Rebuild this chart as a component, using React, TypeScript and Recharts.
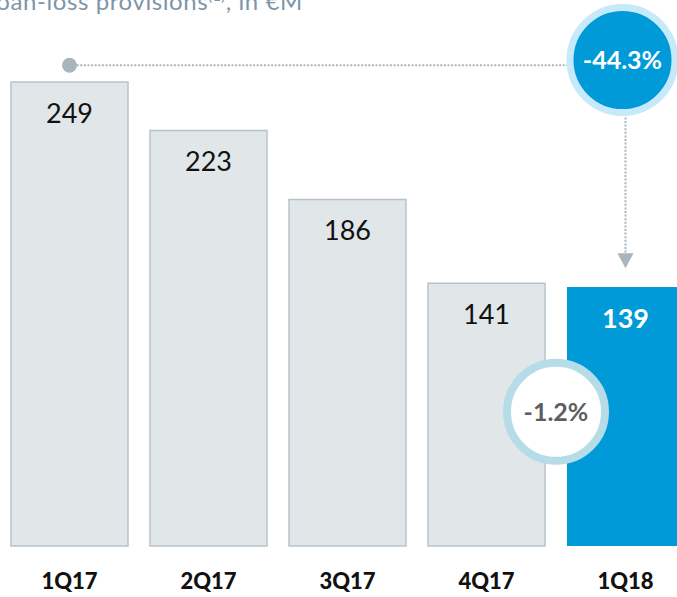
import React from 'react';
import { BarChart, Bar, XAxis, YAxis, Cell, LabelList, ReferenceLine, ReferenceDot } from 'recharts';

const quarters = ['1Q17', '2Q17', '3Q17', '4Q17', '1Q18'];
const provisions = [249, 223, 186, 141, 139];
const highlighted = [false, false, false, false, true];
const titleText = 'Loan-loss provisions';
const titleNote = '(1)';
const titleUnit = ', in €M';
const yMax = 293;
const trendLevel = 258;
const bigBadgeLevel = 260.8;
const bigBadgeText = '-44.3%';
const arrowFrom = 230;
const arrowTo = 149;
const smallBadgeLevel = 72;
const smallBadgeText = '-1.2%';

const data = quarters.map((q, i) => ({ q, v: provisions[i], hl: highlighted[i] }));

const FONT = 'Lato, Calibri, "Open Sans", sans-serif';
const GRAY_FILL = '#e1e6e9';
const GRAY_STROKE = '#b7c3cb';
const BLUE = '#009ad8';
const DOT_GRAY = '#a9b5bd';

const ValueLabel = (props: any) => {
  const { x, y, width, value, index } = props;
  const hl = highlighted[index];
  return (
    <text
      x={x + width / 2}
      y={y + 41}
      textAnchor="middle"
      fontFamily={FONT}
      fontSize={27}
      fontWeight={hl ? 700 : 400}
      fill={hl ? '#ffffff' : '#111111'}
    >
      {value}
    </text>
  );
};

const XTick = (props: any) => {
  const { x, y, payload } = props;
  return (
    <text x={x} y={y + 43} textAnchor="middle" fontFamily={FONT} fontSize={22} fontWeight={900} fill="#111">
      {payload.value}
    </text>
  );
};

export default function App() {
  return (
    <div style={{ position: 'absolute', left: 0, top: 0, width: 677, height: 597, overflow: 'hidden', background: '#fff' }}>
      <BarChart width={695} height={597} data={data} margin={{ top: 0, right: 0, bottom: 0, left: 0 }}>
        <XAxis dataKey="q" axisLine={false} tickLine={false} tickSize={0} tickMargin={0} height={51} tick={<XTick />} interval={0} />
        <YAxis hide domain={[0, yMax]} />
        <Bar dataKey="v" barSize={117} isAnimationActive={false}>
          {data.map((d, i) => (
            <Cell key={i} fill={d.hl ? BLUE : GRAY_FILL} stroke={d.hl ? 'none' : GRAY_STROKE} strokeWidth={1.5} />
          ))}
          <LabelList dataKey="v" content={<ValueLabel />} />
        </Bar>
        <ReferenceLine
          segment={[{ x: '1Q17', y: trendLevel }, { x: '1Q18', y: trendLevel }]}
          ifOverflow="visible"
          zIndex={2500}
          shape={(p: any) => (
            <line x1={p.x1} y1={p.y1} x2={p.x2} y2={p.y2} stroke={DOT_GRAY} strokeWidth={2} strokeDasharray="2 1.6" />
          )}
        />
        <ReferenceLine
          segment={[{ x: '1Q18', y: arrowFrom }, { x: '1Q18', y: arrowTo }]}
          ifOverflow="visible"
          zIndex={2500}
          shape={(p: any) => (
            <g>
              <line x1={p.x1} y1={p.y1} x2={p.x2} y2={p.y2 - 15} stroke={DOT_GRAY} strokeWidth={2} strokeDasharray="2 1.6" />
              <path d={`M${p.x2 - 8},${p.y2 - 15} L${p.x2 + 8},${p.y2 - 15} L${p.x2},${p.y2} Z`} fill={DOT_GRAY} />
            </g>
          )}
        />
        <ReferenceDot
          x="1Q17"
          y={trendLevel}
          ifOverflow="visible"
          zIndex={2500}
          shape={(p: any) => <circle cx={p.cx} cy={p.cy} r={7.5} fill={DOT_GRAY} />}
        />
        <ReferenceDot
          x="1Q18"
          y={bigBadgeLevel}
          ifOverflow="visible"
          zIndex={2500}
          shape={(p: any) => (
            <g>
              <circle cx={p.cx - 3} cy={p.cy} r={52.5} fill={BLUE} stroke="#c6eafa" strokeWidth={7} />
              <text x={p.cx - 3} y={p.cy + 9} textAnchor="middle" fontFamily={FONT} fontSize={25} fontWeight={700} fill="#fff">
                {bigBadgeText}
              </text>
            </g>
          )}
        />
        <ReferenceLine
          segment={[{ x: '4Q17', y: smallBadgeLevel }, { x: '1Q18', y: smallBadgeLevel }]}
          ifOverflow="visible"
          zIndex={2500}
          shape={(p: any) => {
            const cx = (p.x1 + p.x2) / 2;
            const cy = (p.y1 + p.y2) / 2;
            return (
              <g>
                <circle cx={cx} cy={cy} r={49} fill="#fff" stroke="#b6dce8" strokeWidth={8} />
                <text x={cx} y={cy + 9} textAnchor="middle" fontFamily={FONT} fontSize={25} fontWeight={700} fill="#5e5e5e">
                  {smallBadgeText}
                </text>
              </g>
            );
          }}
        />
      </BarChart>
      <svg width={677} height={40} style={{ position: 'absolute', left: 0, top: 0 }}>
        <text x={303} y={10} textAnchor="end" fontFamily={FONT} fontSize={24} letterSpacing={0.6} fill="#7d95a8">
          {titleText}
          <tspan dy={-9} fontSize={14}>{titleNote}</tspan>
          <tspan dy={9}>{titleUnit}</tspan>
        </text>
      </svg>
    </div>
  );
}
